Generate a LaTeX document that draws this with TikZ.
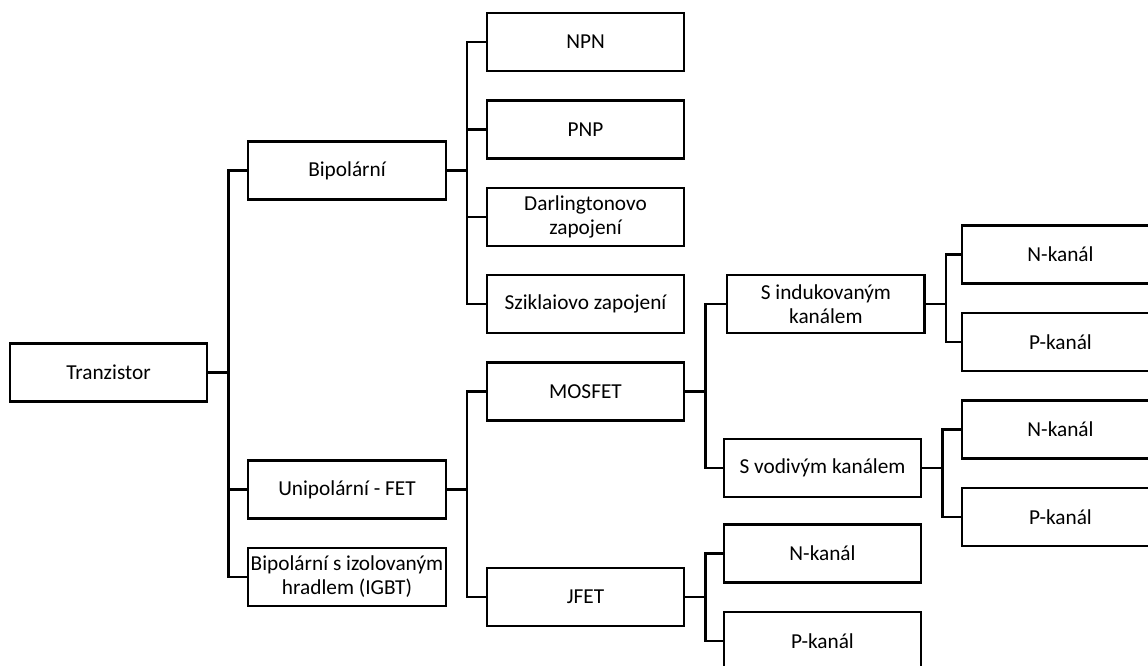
\documentclass[tikz,border=0pt]{standalone}
\usepackage{fontspec}
\setmainfont{Carlito}
\usepackage{tikz}
\usetikzlibrary{positioning}

\begin{document}
\begin{tikzpicture}[x=1pt, y=-1pt, font=\fontsize{21.3}{24}\selectfont, node distance=27pt and 40.5pt,
  box/.style={draw, line width=2.4pt, align=center, inner sep=2pt, minimum width=197.5pt, minimum height=58pt},
  link/.style={line width=2.4pt}]
\clip (0,0) rectangle (1148,666);
\node[box] (tranz) at (108.5,372.5) {Tranzistor};
\node[box] (bip) at (347,170.5) {Bipolární};
\node[box] (uni) at (347,489.5) {Unipolární - FET};
\node[box, below=of uni] (igbt) {Bipolární s izolovaným\\hradlem (IGBT)};
\node[box] (npn) at (585.5,42) {NPN};
\node[box, below=of npn] (pnp) {PNP};
\node[box, below=of pnp] (darl) {Darlingtonovo\\zapojení};
\node[box, below=of darl] (szik) {Sziklaiovo zapojení};
\node[box, below=of szik] (mos) {MOSFET};
\node[box] (jfet) at (585.5,597) {JFET};
\node[box, right=of szik] (sind) {S indukovaným\\kanálem};
\node[box] (svod) at (822.5,468) {S vodivým kanálem};
\node[box] (jn) at (822.5,553.5) {N-kanál};
\node[box, below=of jn] (jp) {P-kanál};
\node[box] (n1) at (1060.5,254.5) {N-kanál};
\node[box, below=of n1] (p1) {P-kanál};
\node[box, below=of p1] (n2) {N-kanál};
\node[box, below=of n2] (p2) {P-kanál};
% tree connectors
\draw[link] (tranz.east) -- ++(20,0) |- (bip.west); \draw[link] (tranz.east) -- ++(20,0) |- (uni.west);
\draw[link] (tranz.east) -- ++(20,0) |- (igbt.west);
\draw[link] (bip.east) -- ++(20,0) |- (npn.west); \draw[link] (bip.east) -- ++(20,0) |- (pnp.west);
\draw[link] (bip.east) -- ++(20,0) |- (darl.west); \draw[link] (bip.east) -- ++(20,0) |- (szik.west);
\draw[link] (uni.east) -- ++(20,0) |- (mos.west); \draw[link] (uni.east) -- ++(20,0) |- (jfet.west);
\draw[link] (mos.east) -- ++(20,0) |- (sind.west); \draw[link] (mos.east) -- ++(20,0) |- (svod.west);
\draw[link] (jfet.east) -- ++(20,0) |- (jn.west); \draw[link] (jfet.east) -- ++(20,0) |- (jp.west);
\draw[link] (sind.east) -- ++(20,0) |- (n1.west); \draw[link] (sind.east) -- ++(20,0) |- (p1.west);
\draw[link] (svod.east) -- ++(20,0) |- (n2.west); \draw[link] (svod.east) -- ++(20,0) |- (p2.west);
\end{tikzpicture}
\end{document}
